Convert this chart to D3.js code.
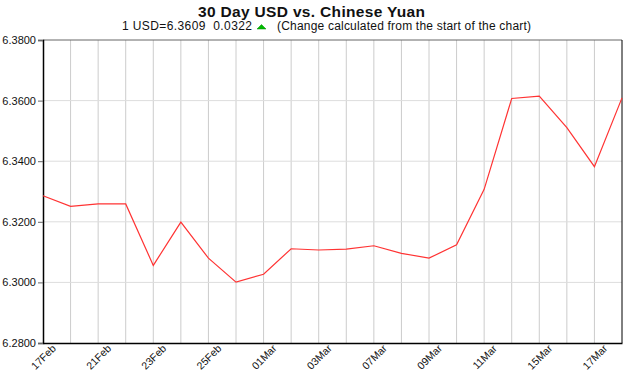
<!DOCTYPE html>
<html>
<head>
<meta charset="utf-8">
<script src="https://cdn.jsdelivr.net/npm/d3@7"></script>
<style>
    body { margin: 0; background: #fff; }
    svg { font-family: "Liberation Sans", Arial, sans-serif; }
</style>
</head>
<body>
<svg id="chart" width="630" height="375"></svg>
<script>
const dates = ["17Feb", "18Feb", "21Feb", "22Feb", "23Feb", "24Feb", "25Feb", "28Feb", "01Mar", "02Mar", "03Mar",
    "04Mar", "07Mar", "08Mar", "09Mar", "10Mar", "11Mar", "14Mar", "15Mar", "16Mar", "17Mar", "18Mar"];
const rates = [6.3286, 6.3251, 6.3259, 6.3259, 6.3056, 6.3199, 6.3080, 6.3001, 6.3027, 6.3111, 6.3107,
    6.3110, 6.3121, 6.3096, 6.3080, 6.3124, 6.3307, 6.3607, 6.3615, 6.3511, 6.3382, 6.3609];
const xTickLabels = ["17Feb", "21Feb", "23Feb", "25Feb", "01Mar", "03Mar", "07Mar", "09Mar", "11Mar", "15Mar", "17Mar"];
const yTicks = [6.28, 6.30, 6.32, 6.34, 6.36, 6.38];

function renderChart() {
    const svg = d3.select("#chart");
    const margin = { top: 40, right: 8, bottom: 32, left: 43 };
    const width = 630, height = 375;

    const x = d3.scalePoint()
        .domain(d3.range(dates.length))
        .range([margin.left, width - margin.right]);

    const y = d3.scaleLinear()
        .domain([6.28, 6.38])
        .range([height - margin.bottom, margin.top]);

    // grid
    svg.append("g")
        .selectAll("line")
        .data(d3.range(1, dates.length - 1))
        .enter()
        .append("line")
        .attr("x1", (d) => x(d)).attr("x2", (d) => x(d))
        .attr("y1", margin.top).attr("y2", height - margin.bottom)
        .attr("stroke", "#cccccc");

    svg.append("g")
        .selectAll("line")
        .data(yTicks.slice(1, -1))
        .enter()
        .append("line")
        .attr("x1", margin.left).attr("x2", width - margin.right)
        .attr("y1", (d) => y(d)).attr("y2", (d) => y(d))
        .attr("stroke", "#dddddd");

    // frame
    svg.append("line")
        .attr("x1", margin.left).attr("x2", width - margin.right)
        .attr("y1", margin.top).attr("y2", margin.top)
        .attr("stroke", "#666");
    svg.append("line")
        .attr("x1", width - margin.right).attr("x2", width - margin.right)
        .attr("y1", margin.top).attr("y2", height - margin.bottom)
        .attr("stroke", "#000");

    const yAxis = svg.append("g")
        .attr("transform", `translate(${margin.left},0)`)
        .call(d3.axisLeft(y).tickValues(yTicks).tickFormat(d3.format(".4f")).tickSize(5).tickPadding(2));
    yAxis.select(".domain").attr("stroke", "#000").attr("stroke-width", 1.5);
    yAxis.selectAll(".tick line").attr("stroke", "#666");
    yAxis.selectAll("text").attr("font-size", 11).attr("fill", "#111")
        .attr("font-family", "Liberation Sans, Arial, sans-serif");

    const labelIdx = xTickLabels.map((lab) => dates.indexOf(lab));
    const xAxis = svg.append("g")
        .attr("transform", `translate(0,${height - margin.bottom})`)
        .call(d3.axisBottom(x).tickValues(labelIdx).tickFormat((i) => dates[i]).tickSize(0).tickSizeOuter(0));
    xAxis.select(".domain").attr("stroke", "#000").attr("stroke-width", 1.5);
    xAxis.selectAll("text")
        .attr("font-size", 10.5).attr("fill", "#111")
        .attr("font-family", "Liberation Sans, Arial, sans-serif")
        .attr("text-anchor", "middle")
        .attr("y", 0)
        .attr("dy", "0.35em")
        .attr("transform", "translate(0,14) rotate(-45)");

    const line = d3.line()
        .x((d, i) => x(i))
        .y((d) => y(d));

    svg.append("path")
        .datum(rates)
        .attr("fill", "none")
        .attr("stroke", "#ff3333")
        .attr("stroke-width", 1.2)
        .attr("d", line);

    // titles
    svg.append("text")
        .attr("x", 198).attr("y", 17)
        .attr("font-size", 15.5).attr("font-weight", "bold")
        .attr("fill", "#111")
        .attr("textLength", 227)
        .attr("lengthAdjust", "spacing")
        .text("30 Day USD vs. Chinese Yuan");

    const sub = svg.append("g");
    sub.append("text")
        .attr("x", 122).attr("y", 30)
        .attr("font-size", 12).attr("fill", "#111")
        .attr("xml:space", "preserve")
        .attr("textLength", 130)
        .attr("lengthAdjust", "spacing")
        .text("1 USD=6.3609  0.0322");
    sub.append("path")
        .attr("d", "M257,29 L261.5,24.5 L266,29 Z")
        .attr("fill", "#00bb00")
        .attr("stroke", "#008800")
        .attr("stroke-width", 0.5);
    sub.append("text")
        .attr("x", 277).attr("y", 30)
        .attr("font-size", 12).attr("fill", "#111")
        .attr("textLength", 254)
        .attr("lengthAdjust", "spacing")
        .text("(Change calculated from the start of the chart)");
}

renderChart();
</script>
</body>
</html>
